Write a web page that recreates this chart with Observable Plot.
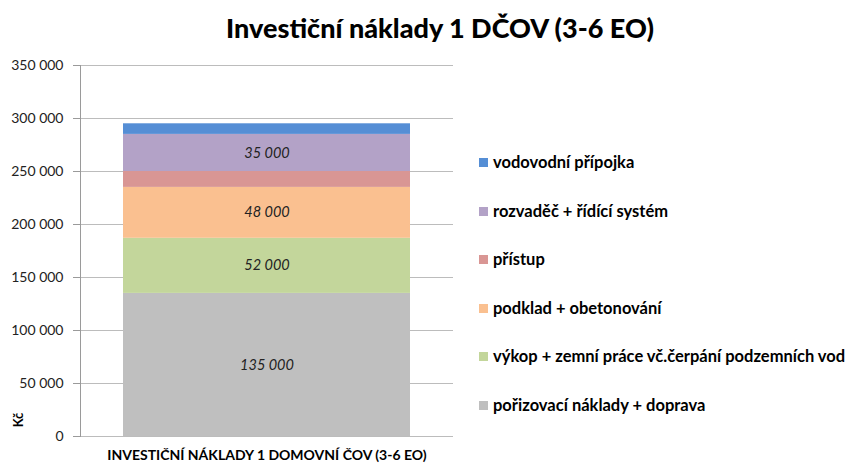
<!DOCTYPE html>
<html>
<head>
<meta charset="utf-8">
<script src="https://cdn.jsdelivr.net/npm/d3@7"></script>
<script src="https://cdn.jsdelivr.net/npm/@observablehq/plot@0.6"></script>
<style>
  html, body { margin: 0; padding: 0; background: #fff; }
  #wrap { position: relative; width: 848px; height: 464px; font-family: Lato, "Liberation Sans", sans-serif; overflow: hidden; }
  #title { position: absolute; left: 0; width: 880px; top: 11px; text-align: center; font-size: 27px; font-weight: 900; color: #000; }
  #ylab { position: absolute; left: 11px; top: 412px; font-size: 13px; font-weight: bold; transform: rotate(-90deg); transform-origin: center; }
  #legend { position: absolute; left: 479px; top: 152px; }
  .li { height: 48.6px; display: flex; align-items: flex-start; font-size: 16.5px; font-weight: bold; color: #000; white-space: nowrap; }
  .sw { width: 9px; height: 9px; margin-right: 5px; margin-top: 6px; flex: none; }
  #chart { position: absolute; left: 0; top: 0; }
</style>
</head>
<body>
<div id="wrap">
  <div id="chart"></div>
  <div id="title">Investiční náklady 1 DČOV (3-6 EO)</div>
  <div id="ylab">Kč</div>
  <div id="legend"></div>
</div>
<script>
const category = "INVESTIČNÍ NÁKLADY 1 DOMOVNÍ ČOV (3-6 EO)";
const series = [
  "pořizovací náklady + doprava",
  "výkop + zemní práce vč.čerpání podzemních vod",
  "podklad + obetonování",
  "přístup",
  "rozvaděč + řídící systém",
  "vodovodní přípojka"
];
const values = [135000, 52000, 48000, 15000, 35000, 10000];
const showLabel = [true, true, true, false, true, false];
const colors = ["#bfbfbf", "#c3d69b", "#fac090", "#d99694", "#b3a2c7", "#558ed5"];
const yTicks = [0, 50000, 100000, 150000, 200000, 250000, 300000, 350000];

const fmt = d3.formatLocale({decimal: ",", thousands: " ", grouping: [3], currency: ["", " Kč"]}).format(",");

const data = series.map((s, i) => ({category, series: s, value: values[i], label: showLabel[i] ? fmt(values[i]) : ""}));

const chart = Plot.plot({
  width: 848,
  height: 464,
  marginLeft: 80,
  marginRight: 395,
  marginTop: 65,
  marginBottom: 28,
  style: {fontFamily: "Lato, 'Liberation Sans', sans-serif", fontSize: "14px", color: "#000", background: "transparent"},
  x: {domain: [category], padding: 0.13, label: null},
  y: {domain: [0, 350000], label: null},
  color: {domain: series, range: colors},
  marks: [
    Plot.gridY(yTicks, {stroke: "#bcbcbc", strokeOpacity: 1, strokeWidth: 1.2}),
    Plot.axisY(yTicks, {tickFormat: fmt, tickSize: 7, stroke: "#9a9a9a", tickPadding: 10, fontSize: 14, fill: "#222"}),
    Plot.barY(data, Plot.stackY({x: "category", y: "value", fill: "series", order: null})),
    Plot.text(data, Plot.stackY({x: "category", y: "value", z: "series", text: "label", order: null, fontStyle: "italic", fontSize: 14.5, fill: "#222"})),
    Plot.axisX({tickSize: 0, tickPadding: 14, fontWeight: "bold", fontSize: 14, fill: "#000"}),
    Plot.frame({anchor: "left", stroke: "#9a9a9a"})
  ]
});
document.getElementById("chart").appendChild(chart);

const legend = document.getElementById("legend");
for (let i = series.length - 1; i >= 0; i--) {
  const row = document.createElement("div");
  row.className = "li";
  const sw = document.createElement("span");
  sw.className = "sw";
  sw.style.background = colors[i];
  const t = document.createElement("span");
  t.textContent = series[i];
  row.appendChild(sw);
  row.appendChild(t);
  legend.appendChild(row);
}
</script>
</body>
</html>
